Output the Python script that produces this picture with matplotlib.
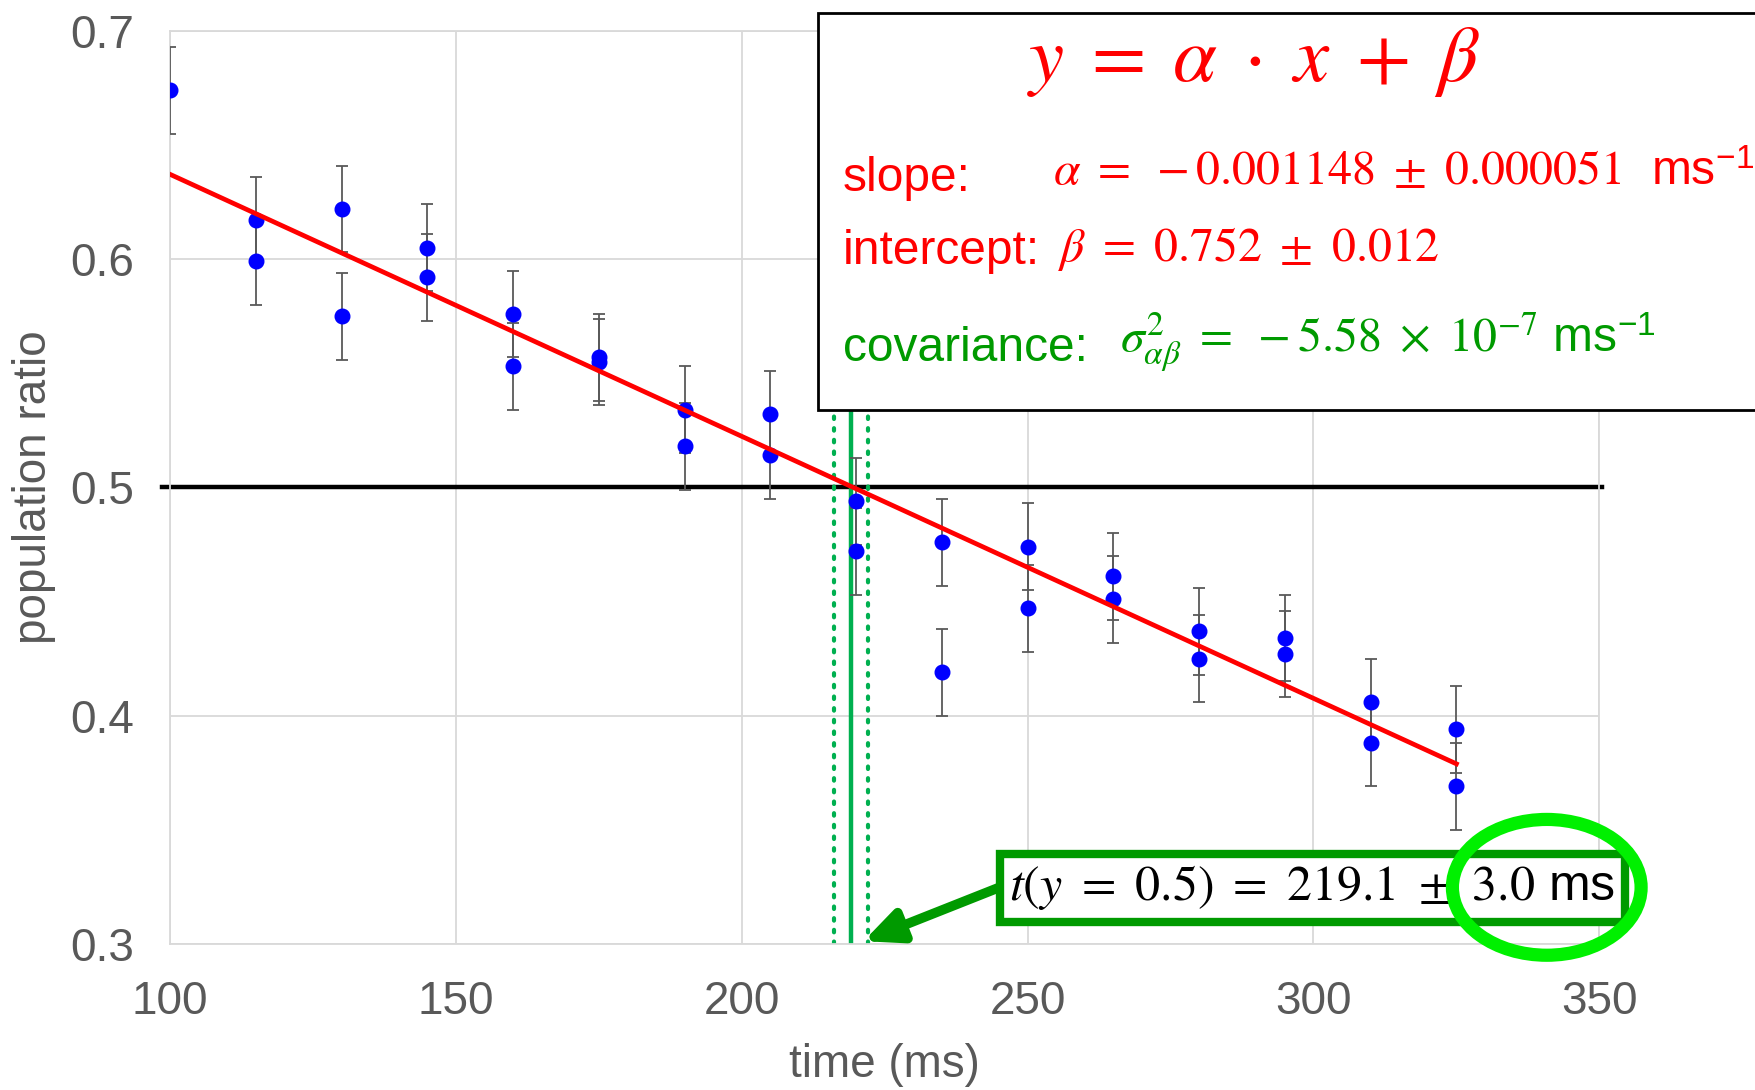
import numpy as np
import matplotlib.pyplot as plt
from matplotlib.patches import Ellipse, Rectangle

plt.rcParams['font.family'] = ['Liberation Sans', 'DejaVu Sans']
plt.rcParams['mathtext.fontset'] = 'stix'

# measured points (two repeats per time, one at 100 ms)
time_ms = [100, 115, 115, 130, 130, 145, 145, 160, 160, 175, 175, 190, 190,
           205, 205, 220, 220, 235, 235, 250, 250, 265, 265, 280, 280,
           295, 295, 310, 310, 325, 325]
ratio = [0.674, 0.617, 0.599, 0.622, 0.575, 0.605, 0.592, 0.576, 0.553,
         0.557, 0.555, 0.534, 0.518, 0.532, 0.514, 0.494, 0.472, 0.476,
         0.419, 0.474, 0.447, 0.461, 0.451, 0.437, 0.425, 0.434, 0.427,
         0.406, 0.388, 0.394, 0.369]
ratio_err = [0.019] * len(time_ms)

# linear fit result
alpha = -0.001148
beta = 0.752
fit_x = np.array([100, 325])
t_half = 219.1
t_half_err = 3.0

GRAY = '#595959'
GRID = '#D9D9D9'
RED = '#FF0000'
LINE_GREEN = '#00B050'
DARK_GREEN = '#009A00'

fig = plt.figure(figsize=(17.56, 10.9), dpi=100)
ax = fig.add_subplot(111)
fig.subplots_adjust(left=0.0968, right=0.9108, top=0.9716, bottom=0.134)

ax.set_xlim(100, 350)
ax.set_ylim(0.3, 0.7)
ax.set_xticks([100, 150, 200, 250, 300, 350])
ax.set_yticks([0.3, 0.4, 0.5, 0.6, 0.7])
ax.set_yticklabels(['0.3', '0.4', '0.5', '0.6', '0.7'])
ax.grid(True, color=GRID, linewidth=1.3)
ax.set_axisbelow(True)
for s in ax.spines.values():
    s.set_color(GRID)
    s.set_linewidth(1.3)
ax.tick_params(length=0, labelsize=33, labelcolor=GRAY, pad=26)
ax.set_xlabel('time (ms)', fontsize=33, color=GRAY, labelpad=14)
ax.set_ylabel('population ratio', fontsize=33, color=GRAY, labelpad=10)

# threshold line and crossing time
ax.plot([98.6, 350.4], [0.5, 0.5], color='black', linewidth=3.2, clip_on=False, zorder=2)
ax.axvline(t_half, color=LINE_GREEN, linewidth=3.2, zorder=2)
for xv in (t_half - t_half_err, t_half + t_half_err):
    ax.axvline(xv, color=LINE_GREEN, linewidth=3, linestyle=(0, (0.6, 2.2)),
               dash_capstyle='round', zorder=2)

ax.errorbar(time_ms, ratio, yerr=ratio_err, fmt='o', color='#0000FF',
            markersize=10.5, ecolor=GRAY, elinewidth=1.3, capsize=4.5,
            capthick=1.3, zorder=4)
ax.plot(fit_x, alpha * fit_x + beta, color=RED, linewidth=3.4, zorder=5)

# result annotation
ax.annotate('', xy=(221.3, 0.3012), xytext=(246.5, 0.3262),
            arrowprops=dict(arrowstyle='-|>,head_length=2.2,head_width=1.0',
                            color=DARK_GREEN, linewidth=7, shrinkA=0, shrinkB=0),
            zorder=6)
ax.text(299.8, 0.3246, r'$t(y\ =\ 0.5)\ =\ 219.1\ \pm\ 3.0$ ms', fontsize=36,
        ha='center', va='center', color='black', zorder=7,
        bbox=dict(boxstyle='square,pad=0.19', facecolor='white',
                  edgecolor=DARK_GREEN, linewidth=6))
ax.add_patch(Ellipse((340.8, 0.3248), 33.0, 0.0595, fill=False,
                     edgecolor='#00F000', linewidth=9.5, clip_on=False, zorder=8))

# fit parameter box
fig.patches.append(Rectangle((0.466, 0.624), 0.56, 0.364, transform=fig.transFigure,
                             facecolor='white', edgecolor='black', linewidth=2,
                             zorder=5))
fig.text(0.714, 0.944, r'$y\;=\;\alpha\;\cdot\;x\;+\;\beta$', fontsize=57, color=RED,
         ha='center', va='center', zorder=6)
fig.text(0.480, 0.836, 'slope:', fontsize=34.5, color=RED, va='center', zorder=6)
fig.text(0.5996, 0.843,
         r'$\alpha\ =\ -0.001148\ \pm\ 0.000051$  ms$^{\mathregular{-1}}$',
         fontsize=34.5, color=RED, va='center', zorder=6)
fig.text(0.480, 0.769, 'intercept:', fontsize=34.5, color=RED, va='center', zorder=6)
fig.text(0.6027, 0.772, r'$\beta\ =\ 0.752\ \pm\ 0.012$',
         fontsize=34.5, color=RED, va='center', zorder=6)
fig.text(0.480, 0.680, 'covariance:', fontsize=34.5, color=DARK_GREEN, va='center', zorder=6)
fig.text(0.638, 0.686,
         r'$\sigma^2_{\alpha\beta}\ =\ -5.58\ \times\ 10^{-7}$ ms$^{\mathregular{-1}}$',
         fontsize=34.5, color=DARK_GREEN, va='center', zorder=6)

fig.savefig('out.png', dpi=100)
